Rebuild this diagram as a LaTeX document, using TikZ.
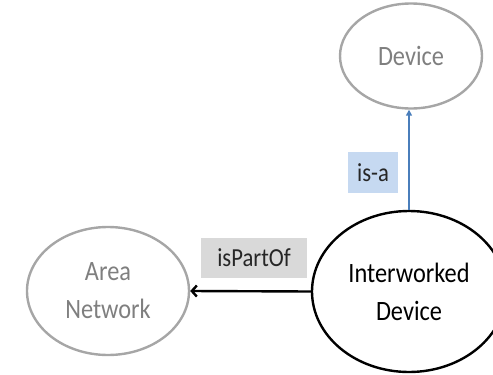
\documentclass[tikz,border=0pt]{standalone}
\usepackage{fontspec}
\setmainfont{Carlito}
\newfontfamily\tallfont[FakeStretch=0.87]{Carlito}
\usetikzlibrary{shapes.geometric,arrows.meta}
\definecolor{ringgray}{HTML}{A6A6A6}
\definecolor{textgray}{HTML}{7F7F7F}
\definecolor{isablue}{HTML}{4A7EBB}
\definecolor{isafill}{HTML}{C6D9F1}
\definecolor{partfill}{HTML}{D9D9D9}
\tikzset{
  concept/.style={ellipse, draw, line width=2.4pt, inner sep=0pt, align=center,
    font=\tallfont\fontsize{28}{38}\selectfont},
  faded/.style={concept, draw=ringgray, text=textgray},
  main/.style={concept, draw=black, text=black},
  relbox/.style={inner sep=0pt, font=\tallfont\fontsize{26}{30}\selectfont, text=black!85},
}
\begin{document}
\begin{tikzpicture}[x=1pt,y=-1pt]
\useasboundingbox (0,0) rectangle (493,375);
\clip (0,0) rectangle (493,375);
\node[faded, minimum width=142pt, minimum height=105pt] (dev) at (411,56) {Device};
\node[faded, minimum width=162pt, minimum height=128pt] (area) at (108,291) {Area\\Network};
\node[main, minimum width=194pt, minimum height=161pt] (inter) at (409,291.5) {Interworked\\Device};
\node[relbox, fill=isafill, minimum width=50pt, minimum height=41pt] (isa) at (373,172.5) {is-a};
\node[relbox, fill=partfill, minimum width=106pt, minimum height=40pt] (part) at (254,258) {isPartOf};
\draw[isablue, line width=1.8pt, -{Triangle[length=6pt,width=6pt]}] (inter.north) -- (inter.north |- dev.south);
\draw[black, line width=2.4pt, -{Straight Barb[length=5pt,width=11pt]}] (inter.west) -- (area.east);
\end{tikzpicture}
\end{document}
